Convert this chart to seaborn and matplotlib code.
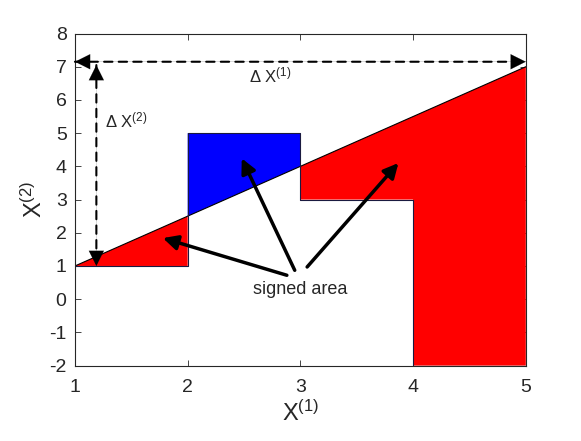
import numpy as np
import matplotlib
matplotlib.use('Agg')
import matplotlib.pyplot as plt
import seaborn as sns

# line x^(2) vs x^(1) and the step curve it is compared with
line_x = [1, 5]
line_y = [1, 7]
step_x = [1, 2, 2, 3, 3, 4, 4, 5]
step_y = [1, 1, 5, 5, 3, 3, -2, -2]

x_ticks = [1, 2, 3, 4, 5]
y_ticks = [-2, -1, 0, 1, 2, 3, 4, 5, 6, 7, 8]

# annotation arrows: start (tail) and end (head)
label_pos = (3.0, 0.28)
arrow_tails = [(2.88, 0.72), (2.95, 0.87), (3.06, 0.97)]
arrow_heads = [(1.78, 1.84), (2.48, 4.24), (3.87, 4.10)]


def main():
    sns.set_theme(style='ticks')
    plt.rcParams['font.family'] = ['Liberation Sans', 'DejaVu Sans']
    plt.rcParams['mathtext.fontset'] = 'custom'
    plt.rcParams['mathtext.rm'] = 'Liberation Sans'
    plt.rcParams['mathtext.it'] = 'Liberation Sans'
    plt.rcParams['axes.unicode_minus'] = False
    plt.rcParams['xtick.direction'] = 'in'
    plt.rcParams['ytick.direction'] = 'in'

    fig = plt.figure(figsize=(5.81, 4.41), dpi=100)
    ax = fig.add_axes([0.129, 0.171, 0.776, 0.753])

    # line evaluated on the step grid
    sx = np.array(step_x, dtype=float)
    sy = np.array(step_y, dtype=float)
    ly = np.interp(sx, line_x, line_y)

    ax.fill_between(sx, ly, sy, where=ly >= sy, interpolate=True,
                    color='#ff0000', linewidth=0)
    ax.fill_between(sx, ly, sy, where=ly <= sy, interpolate=True,
                    color='#0000ff', linewidth=0)

    sns.lineplot(x=line_x, y=line_y, ax=ax, color='black', lw=0.8, sort=False)
    sns.lineplot(x=step_x, y=step_y, ax=ax, color='#1a1a40', lw=0.8,
                 sort=False, estimator=None)

    # delta arrows (dashed shaft, filled heads)
    for xy, xytext in [((5, 7.15), (1.0, 7.15)), ((1.19, 1.0), (1.19, 7.05))]:
        ax.annotate('', xy=xy, xytext=xytext,
                    arrowprops=dict(arrowstyle='-', lw=1.5, ls=(0, (4, 3)),
                                    color='black', shrinkA=0, shrinkB=0))
        ax.annotate('', xy=xy, xytext=xytext,
                    arrowprops=dict(arrowstyle='<|-|>,head_length=0.6,head_width=0.3',
                                    lw=0.1, color='black', mutation_scale=18,
                                    shrinkA=0, shrinkB=0))
    ax.text(2.54, 6.75, r'$\Delta\ \mathrm{X}^{(1)}$', fontsize=12, va='center')
    ax.text(1.27, 5.39, r'$\Delta\ \mathrm{X}^{(2)}$', fontsize=12, va='center')

    # signed area arrows
    ax.text(label_pos[0], label_pos[1], 'signed area', fontsize=13,
            ha='center', va='center')
    for tail, head in zip(arrow_tails, arrow_heads):
        ax.annotate('', xy=head, xytext=tail,
                    arrowprops=dict(arrowstyle='-|>', lw=2.5, color='black',
                                    mutation_scale=22, shrinkA=0, shrinkB=0))

    ax.set_xlim(1, 5)
    ax.set_ylim(-2, 8)
    ax.set_xticks(x_ticks)
    ax.set_yticks(y_ticks)
    ax.tick_params(labelsize=14, top=True, right=True, length=4, width=0.6,
                   colors='#262626')
    ax.tick_params(axis='x', pad=10)
    ax.tick_params(axis='y', pad=6)
    for s in ax.spines.values():
        s.set_linewidth(0.8)
        s.set_color('#262626')
    ax.set_xlabel(r'X$^{(1)}$', fontsize=17, color='#262626', labelpad=3)
    ax.set_ylabel(r'X$^{(2)}$', fontsize=17, color='#262626', labelpad=2)

    fig.savefig('out.png', dpi=100)
    plt.close(fig)


if __name__ == '__main__':
    main()
